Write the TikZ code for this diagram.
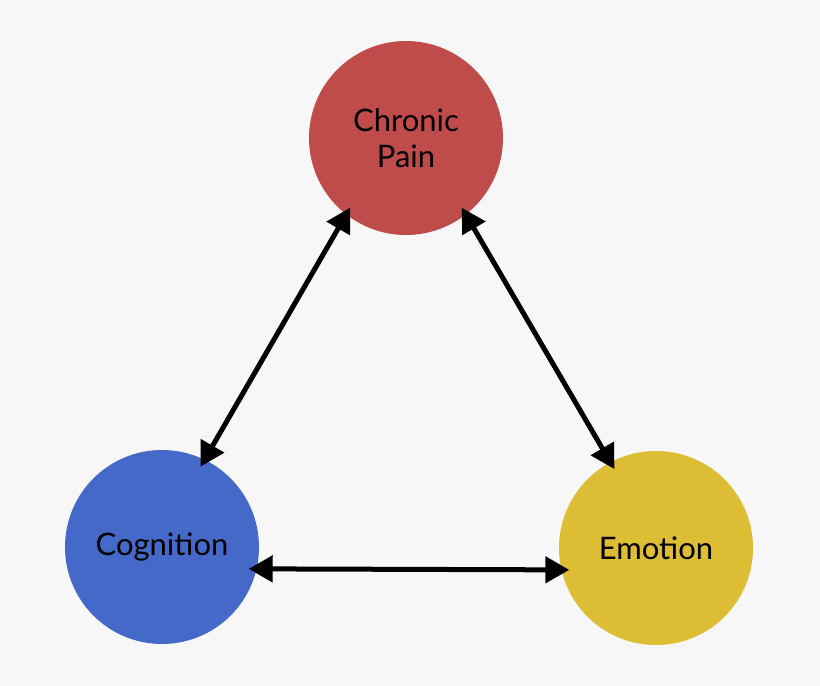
\documentclass[tikz,border=0pt]{standalone}
\usepackage{fontspec}
\setmainfont{Lato}
\usetikzlibrary{arrows.meta}
\definecolor{bg}{HTML}{F7F7F7}
\definecolor{cpc}{HTML}{C04B4B}
\definecolor{cgc}{HTML}{4569C9}
\definecolor{emc}{HTML}{DDBD33}
\begin{document}
\begin{tikzpicture}[x=1pt,y=-1pt,
  circ/.style={circle,minimum size=194pt,inner sep=0pt,align=center,font=\fontsize{31}{36}\selectfont},
  link/.style={line width=5pt,{Triangle[length=24pt,width=26pt]}-{Triangle[length=24pt,width=26pt]},shorten <=-8pt,shorten >=-8pt}]
\fill[bg] (0,0) rectangle (820,686);
\useasboundingbox (0,0) rectangle (820,686);
\node[circ,fill=cpc] (cp) at (406,138) {Chronic\\Pain};
\node[circ,fill=cgc] (cg) at (162,547) {Cognition};
\node[circ,fill=emc] (em) at (656,548) {Emotion};
\draw[link] (cp.-128) -- (cg.64);
\draw[link] (cp.-52) -- (em.118);
\draw[link] (cg.-13) -- (em.193);
\end{tikzpicture}
\end{document}
